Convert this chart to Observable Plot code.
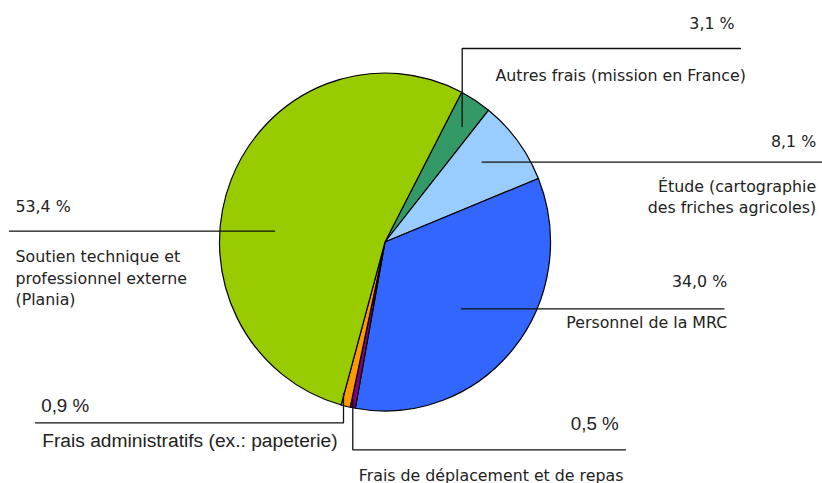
<!DOCTYPE html>
<html><head><meta charset="utf-8">
<script src="https://cdn.jsdelivr.net/npm/d3@7"></script>
<script src="https://cdn.jsdelivr.net/npm/@observablehq/plot@0.6"></script>
<style>body{margin:0;background:#fff}#chart{width:822px;height:483px}</style>
</head><body><div id="chart"></div>
<script>
// ---- data ----
const categories = [
  "Autres frais (mission en France)",
  "Étude (cartographie des friches agricoles)",
  "Personnel de la MRC",
  "Frais de déplacement et de repas",
  "Frais administratifs (ex.: papeterie)",
  "Soutien technique et professionnel externe (Plania)"
];
const values = [3.1, 8.1, 34.0, 0.5, 0.9, 53.4];
const labelText = [
  "Autres frais (mission en France)",
  "Étude (cartographie\ndes friches agricoles)",
  "Personnel de la MRC",
  "Frais de déplacement et de repas",
  "Frais administratifs (ex.: papeterie)",
  "Soutien technique et\nprofessionnel externe\n(Plania)"
];

// ---- styles ----
const colors = ["#339966", "#99CCFF", "#3366FF", "#800080", "#FF9900", "#99CC00"];
const color = Plot.scale({color: {type: "ordinal", domain: categories, range: colors}});

// ---- layout (pixels) ----
const W = 822, H = 483;
const pie = {cx: 385, cy: 242, rx: 165.5, ry: 169, startDeg: 27.6};
const SANS = "'DejaVu Sans', Verdana, sans-serif";
const ARIAL = "'Liberation Sans', Arial, sans-serif";
const layout = [
  {leader: [[461.7,126],[461.7,48],[740,48]],
   pct: {x: 734, y: 28.3, anchor: "end", font: SANS, size: 15.8},
   name: {x: 495, y: 80, anchor: "start", font: SANS, size: 15.8}},
  {leader: [[481.7,161.7],[822,161.7]],
   pct: {x: 815.7, y: 146, anchor: "end", font: SANS, size: 15.8},
   name: {x: 815.7, y: 212, anchor: "end", font: SANS, size: 15.8, lh: 1.27}},
  {leader: [[461,308.3],[723.5,308.3]],
   pct: {x: 726.7, y: 286, anchor: "end", font: SANS, size: 15.8},
   name: {x: 726.7, y: 327.7, anchor: "end", font: SANS, size: 15.8}},
  {leader: [[352.3,399],[352.3,449.3],[625,449.3]],
   pct: {x: 618.3, y: 429.3, anchor: "end", font: ARIAL, size: 18.8},
   name: {x: 358.3, y: 480, anchor: "start", font: SANS, size: 15.8}},
  {leader: [[343,393],[343,422.3],[35,422.3]],
   pct: {x: 40.7, y: 411.7, anchor: "start", font: ARIAL, size: 18.8},
   name: {x: 41.7, y: 446, anchor: "start", font: ARIAL, size: 19.2}},
  {leader: [[274,230.7],[9,230.7]],
   pct: {x: 15, y: 211.7, anchor: "start", font: SANS, size: 15.8},
   name: {x: 15, y: 304, anchor: "start", font: SANS, size: 15.8, lh: 1.33}}
];

const fmt = v => d3.format(".1f")(v).replace(".", ",") + " %";

const leaderRows = layout.flatMap((l, i) => l.leader.map(([x, y]) => ({id: i, x, y})));
const textRows = [];
layout.forEach((l, i) => {
  textRows.push({...l.pct, text: fmt(values[i])});
  textRows.push({lh: 1.2, ...l.name, text: labelText[i]});
});

function pieMark(index, scales) {
  const sx = scales.x, sy = scales.y;
  const a0 = pie.startDeg * Math.PI / 180;
  const arcs = d3.pie().sort(null).startAngle(a0).endAngle(a0 + 2 * Math.PI)(values);
  const r = sx(pie.cx + pie.rx) - sx(pie.cx);
  const ky = (sy(pie.cy + pie.ry) - sy(pie.cy)) / r;
  const arc = d3.arc().innerRadius(0).outerRadius(r);
  const g = d3.create("svg:g").attr("transform", `translate(${sx(pie.cx)},${sy(pie.cy)}) scale(1,${ky})`);
  g.selectAll("path").data(arcs).join("path")
    .attr("d", arc)
    .attr("fill", (d, i) => color.apply(categories[i]))
    .attr("stroke", "#000")
    .attr("stroke-width", 1.2)
    .attr("vector-effect", "non-scaling-stroke")
    .attr("stroke-linejoin", "round");
  return g.node();
}

const textMarks = [];
const groups = d3.groups(textRows, d => `${d.anchor}|${d.font}|${d.size}|${d.lh}`);
for (const [, rows] of groups) {
  const d0 = rows[0];
  textMarks.push(Plot.text(rows, {
    x: "x", y: "y", text: "text",
    textAnchor: d0.anchor, lineAnchor: "bottom",
    fontSize: d0.size, fontFamily: d0.font, lineHeight: d0.lh,
    fill: "#222"
  }));
}

const chart = Plot.plot({
  width: W, height: H,
  margin: 0,
  x: {domain: [0, W], range: [0, W], axis: null},
  y: {domain: [0, H], range: [0, H], axis: null},
  style: {background: "#fff", overflow: "visible"},
  marks: [
    pieMark,
    Plot.line(leaderRows, {x: "x", y: "y", z: "id", stroke: "#111", strokeWidth: 1.3}),
    ...textMarks
  ]
});
document.getElementById("chart").appendChild(chart);
</script>
</body></html>
